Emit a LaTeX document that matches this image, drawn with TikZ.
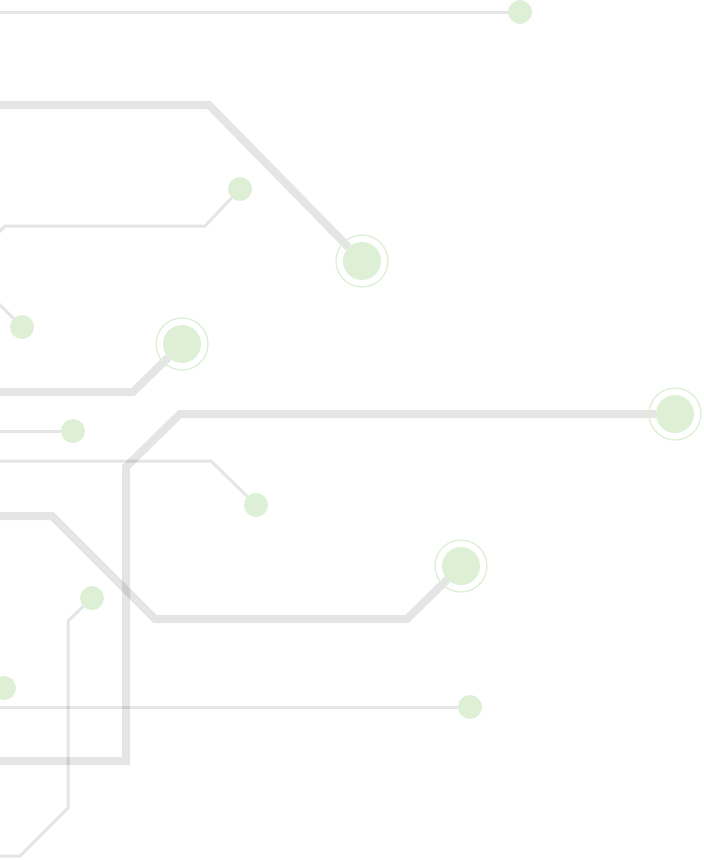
\documentclass[tikz,border=0pt]{standalone}
\usepackage{xcolor}
\usepackage{tikz}
\usetikzlibrary{positioning}
\definecolor{padgreen}{RGB}{221,239,213}
\definecolor{tracegray}{RGB}{0,0,0}

\begin{document}
\begin{tikzpicture}[
    x=1pt, y=-1pt,
    trace/.style={line width=3pt, tracegray, opacity=0.1},
    bus/.style={line width=8pt, tracegray, opacity=0.1},
    pad/.style={circle, fill=padgreen, minimum size=24pt, inner sep=0pt},
    bigpad/.style={circle, fill=padgreen, minimum size=38pt, inner sep=0pt},
    ring/.style={draw=padgreen, line width=1.3pt}
]
    \useasboundingbox (0,0) rectangle (704,860);
    \clip (0,0) rectangle (704,860);

    % Pads
    \node[pad] (padtop) at (520,12) {};
    \node[pad] (padA) at (240,189) {};
    \node[pad] (padB) at (22,327) {};
    \node[pad] (padC) at (73,431) {};
    \node[pad] (padD) at (256,505) {};
    \node[pad] (padE) at (92,598) {};
    \node[pad] (padF) at (4,688) {};
    \node[pad] (padG) at (470,707) {};

    % Big pads
    \node[bigpad] (viaA) at (362,261) {};
    \node[bigpad] (viaB) at (182,344) {};
    \node[bigpad] (viaC) at (675,414) {};
    \node[bigpad] (viaD) at (461,566) {};

    % Bend points
    \coordinate (s1) at (-10,12);
    \coordinate (s2) at (-10,105);
    \coordinate (b2) at (209,105);
    \coordinate (s3) at (-6,237);
    \coordinate (b3a) at (5,226);
    \coordinate (b3b) at (205,226);
    \coordinate (s4) at (-12,293);
    \coordinate (s5) at (-10,392);
    \coordinate (b5) at (133,392);
    \coordinate (s6) at (-10,431);
    \coordinate (b7a) at (180,414);
    \coordinate (b7b) at (126,467);
    \coordinate (b7c) at (126,761);
    \coordinate (s7) at (-10,761);
    \coordinate (s8) at (-10,461);
    \coordinate (b8) at (211,461);
    \coordinate (s9) at (-10,516);
    \coordinate (b9a) at (52,516);
    \coordinate (b9b) at (155,619);
    \coordinate (b9c) at (407,619);
    \coordinate (b10a) at (68,621);
    \coordinate (b10b) at (68,808);
    \coordinate (b10c) at (20,856);
    \coordinate (s10) at (-10,856);
    \coordinate (s11) at (-10,707);

    % Thin traces
    \draw[trace] (s1) -- (padtop);
    \draw[trace] (s3) -- (b3a) -- (b3b) -- (padA);
    \draw[trace] (s4) -- (padB);
    \draw[trace] (s6) -- (padC);
    \draw[trace] (s8) -- (b8) -- (padD);
    \draw[trace] (padE) -- (b10a) -- (b10b) -- (b10c) -- (s10);
    \draw[trace] (s11) -- (padG);

    % Thick traces
    \draw[bus] (s2) -- (b2) -- (viaA);
    \draw[bus] (s5) -- (b5) -- (viaB);
    \draw[bus] (viaC) -- (b7a) -- (b7b) -- (b7c) -- (s7);
    \draw[bus] (s9) -- (b9a) -- (b9b) -- (b9c) -- (viaD);

    % Rings
    \foreach \v in {viaA, viaB, viaC, viaD}
        \draw[ring] (\v.center) circle (26pt);
\end{tikzpicture}
\end{document}
